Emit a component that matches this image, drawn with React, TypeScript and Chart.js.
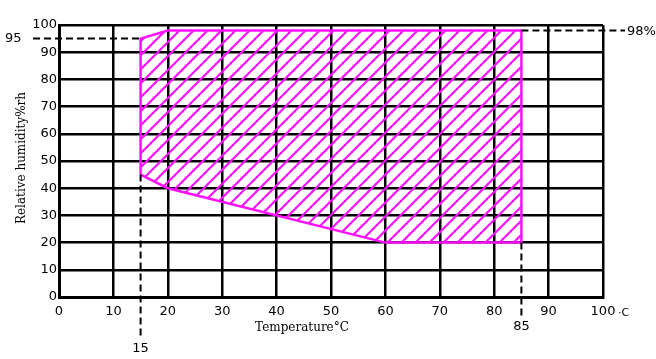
import React, { useEffect, useRef } from "react";
import { Chart, registerables } from "chart.js";

Chart.register(...registerables);

// Region boundary (temperature °C, relative humidity %rh)
const regionTemp = [15, 15, 20, 85, 85, 60, 20, 15];
const regionRH = [45, 95, 98, 98, 20, 20, 40, 45];
const axisTicks = [0, 10, 20, 30, 40, 50, 60, 70, 80, 90, 100];
// Reference marks
const markRH = [95, 98];
const markTemp = [15, 85];
const xTitle = "Temperature°C";
const yTitle = "Relative humidity%rh";

const MAGENTA = "#ff10ff";

function makeHatch(): CanvasPattern | string {
  const s = 14;
  const c = document.createElement("canvas");
  c.width = s;
  c.height = s;
  const g = c.getContext("2d");
  if (!g) return "rgba(255,0,255,0.2)";
  g.strokeStyle = MAGENTA;
  g.lineWidth = 2.2;
  g.beginPath();
  g.moveTo(0, s);
  g.lineTo(s, 0);
  g.moveTo(-2, 2);
  g.lineTo(2, -2);
  g.moveTo(s - 2, s + 2);
  g.lineTo(s + 2, s - 2);
  g.stroke();
  const p = g.createPattern(c, "repeat");
  return p || "rgba(255,0,255,0.2)";
}

const annotations = {
  id: "annotations",
  afterDatasetsDraw(chart: any) {
    const { ctx } = chart;
    const xs = chart.scales.x;
    const ys = chart.scales.y;
    ctx.save();
    ctx.strokeStyle = "#000";
    ctx.lineWidth = 2;
    ctx.setLineDash([7, 4]);
    // 95 line: from left of axis to region edge at 15
    const y95 = ys.getPixelForValue(markRH[0]);
    ctx.beginPath();
    ctx.moveTo(33, y95);
    ctx.lineTo(xs.getPixelForValue(markTemp[0]), y95);
    ctx.stroke();
    // 98 line: from 85 to right outside
    const y98 = ys.getPixelForValue(markRH[1]);
    ctx.beginPath();
    ctx.moveTo(xs.getPixelForValue(markTemp[1]), y98);
    ctx.lineTo(625, y98);
    ctx.stroke();
    // vertical at 15 from 45 down
    const x15 = xs.getPixelForValue(markTemp[0]);
    ctx.beginPath();
    ctx.moveTo(x15, ys.getPixelForValue(45));
    ctx.lineTo(x15, 339);
    ctx.stroke();
    // vertical at 85 from 20 down
    const x85 = xs.getPixelForValue(markTemp[1]);
    ctx.beginPath();
    ctx.moveTo(x85, ys.getPixelForValue(20));
    ctx.lineTo(x85, 317);
    ctx.stroke();
    ctx.setLineDash([]);

    ctx.fillStyle = "#000";
    ctx.font = "13px 'DejaVu Sans'";
    ctx.textBaseline = "middle";
    ctx.textAlign = "left";
    ctx.fillText(String(markRH[0]), 5, y95);
    ctx.fillText(markRH[1] + "%", 627, y98 + 1);
    ctx.textAlign = "center";
    ctx.fillText(String(markTemp[0]), x15, 349);
    ctx.fillText(String(markTemp[1]), x85, 327);
    ctx.font = "11px 'DejaVu Sans'";
    ctx.textAlign = "left";
    ctx.fillText("·C", 618, 313);

    // axis titles
    ctx.font = "12px 'DejaVu Serif'";
    ctx.textAlign = "center";
    ctx.fillText(xTitle, 302, 328);
    ctx.save();
    ctx.translate(22, 158);
    ctx.rotate(-Math.PI / 2);
    ctx.fillText(yTitle, 0, 0);
    ctx.restore();
    ctx.restore();
  },
};

export default function App() {
  const ref = useRef<HTMLCanvasElement | null>(null);
  useEffect(() => {
    document.body.style.margin = "0";
    if (!ref.current) return;
    const points = regionTemp.map((t, i) => ({ x: t, y: regionRH[i] }));
    const chart = new Chart(ref.current, {
      type: "line",
      data: {
        datasets: [
          {
            data: points,
            borderColor: MAGENTA,
            borderWidth: 2.5,
            backgroundColor: makeHatch() as any,
            fill: "shape" as any,
            pointRadius: 0,
            tension: 0,
          },
        ],
      },
      options: {
        animation: false,
        responsive: true,
        maintainAspectRatio: false,
        layout: { padding: { top: 25, right: 53, left: 0, bottom: 0 } },
        plugins: { legend: { display: false }, tooltip: { enabled: false } },
        scales: {
          x: {
            type: "linear",
            min: 0,
            max: 100,
            afterBuildTicks: (s: any) => {
              s.ticks = axisTicks.map((v) => ({ value: v }));
            },
            afterFit: (s: any) => {
              s.height = 62;
            },
            grid: { color: "#000", lineWidth: 2.5, drawTicks: false },
            border: { color: "#000", width: 3 },
            ticks: {
              color: "#000",
              padding: 7,
              font: { family: "'DejaVu Sans'", size: 13 },
              maxRotation: 0,
            },
          },
          y: {
            type: "linear",
            min: 0,
            max: 100,
            afterBuildTicks: (s: any) => {
              s.ticks = axisTicks.map((v) => ({ value: v }));
            },
            afterFit: (s: any) => {
              s.width = 59;
            },
            grid: { color: "#000", lineWidth: 2.5, drawTicks: false },
            border: { color: "#000", width: 3 },
            ticks: {
              color: "#000",
              padding: 2,
              font: { family: "'DejaVu Sans'", size: 13 },
            },
          },
        },
      },
      plugins: [annotations],
    });
    return () => chart.destroy();
  }, []);
  return (
    <div style={{ position: "fixed", left: 0, top: 0, width: 656, height: 359, background: "#fff" }}>
      <canvas ref={ref} />
    </div>
  );
}
